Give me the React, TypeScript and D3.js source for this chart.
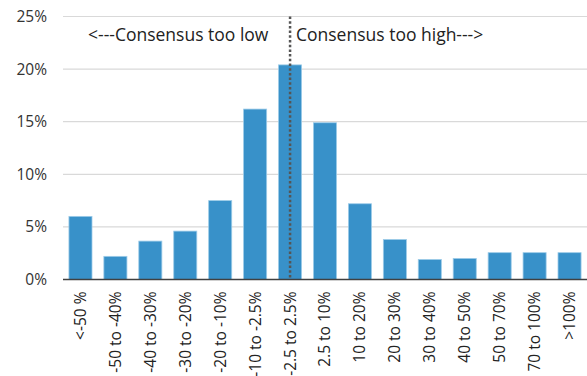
import React from "react";
import * as d3 from "d3";

const categories = [
  "<-50 %", "-50 to -40%", "-40 to -30%", "-30 to -20%", "-20 to -10%",
  "-10 to -2.5%", "-2.5 to 2.5%", "2.5 to 10%", "10 to 20%", "20 to 30%",
  "30 to 40%", "40 to 50%", "50 to 70%", "70 to 100%", ">100%",
];
const values = [6.0, 2.2, 3.65, 4.6, 7.5, 16.2, 20.4, 14.9, 7.2, 3.8, 1.9, 2.0, 2.55, 2.55, 2.55];
const yTicks = [0, 5, 10, 15, 20, 25];
const leftNote = "<---Consensus too low";
const rightNote = "Consensus too high--->";

const W = 587, H = 376;
const M = { left: 63, right: 0, top: 16.5, bottom: 96.5 };
const FONT = "'Open Sans', 'Noto Sans', sans-serif";

export default function App() {
  const x = d3.scaleBand().domain(categories).range([M.left, W - M.right]).paddingInner(0.34).paddingOuter(0.17);
  const y = d3.scaleLinear().domain([0, 25]).range([H - M.bottom, M.top]);
  const divX = (x("-2.5 to 2.5%")! + x.bandwidth() / 2);
  return (
    <svg width={W} height={H} style={{ position: "absolute", left: 0, top: 0, background: "#fff" }} fontFamily={FONT}>
      {yTicks.map((t) => (
        <g key={t}>
          {t > 0 && <line x1={M.left} x2={W} y1={y(t)} y2={y(t)} stroke="#d9d9d9" strokeWidth={1.2} />}
          <text x={47} y={y(t)} dy="0.35em" textAnchor="end" fontSize={15.5} fill="#333">{t}%</text>
        </g>
      ))}
      {values.map((v, i) => (
        <rect key={i} x={x(categories[i])} y={y(v)} width={x.bandwidth()} height={y(0) - y(v)}
          fill="#3891c9" stroke="#9ccbe8" strokeWidth={0.8} />
      ))}
      <line x1={M.left} x2={W} y1={y(0)} y2={y(0)} stroke="#404040" strokeWidth={1.5} />
      <line x1={divX} x2={divX} y1={y(25)} y2={y(0)} stroke="#555" strokeWidth={2.5} strokeDasharray="2.5 2.2" />
      <text x={88} y={35} dy="0.35em" fontSize={17.5} fill="#222">{leftNote}</text>
      <text x={296} y={35} dy="0.35em" fontSize={17.5} fill="#222">{rightNote}</text>
      {categories.map((c) => (
        <text key={c} transform={`translate(${x(c)! + x.bandwidth() / 2},${y(0) + 12}) rotate(-90)`}
          textAnchor="end" dy="0.35em" fontSize={15.5} fill="#222">{c}</text>
      ))}
    </svg>
  );
}
